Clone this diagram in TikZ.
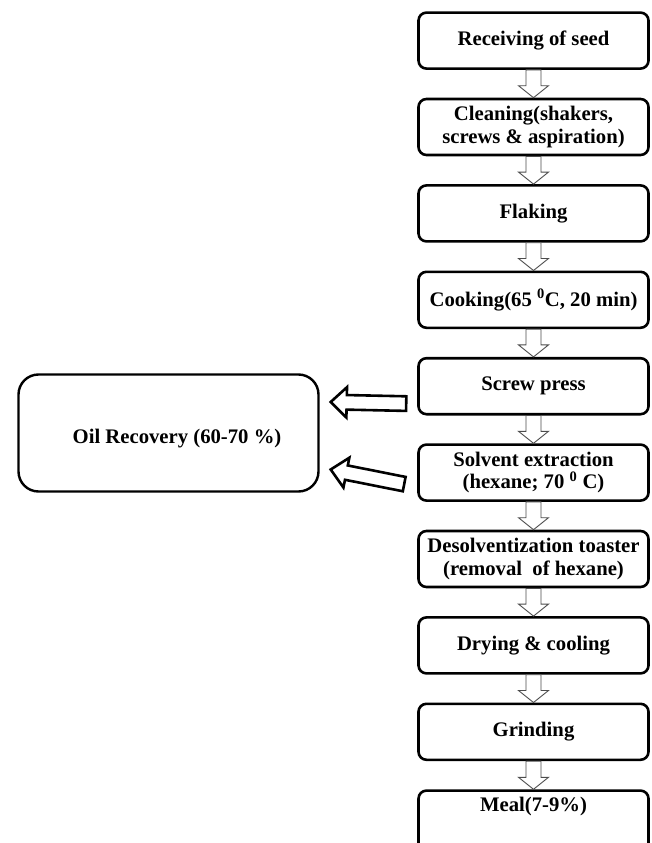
\documentclass[tikz,border=0pt]{standalone}
\usepackage{fontspec}
\setmainfont{Liberation Serif}
\usetikzlibrary{calc}
\tikzset{
  stepbox/.style={draw, line width=2.6pt, rounded corners=8pt, minimum width=230pt,
    minimum height=56pt, inner sep=2pt, align=center, anchor=north,
    font=\fontsize{20.7}{22.3}\selectfont\bfseries},
  oilbox/.style={draw, line width=2.4pt, rounded corners=20pt, minimum width=300pt,
    minimum height=117pt, inner sep=2pt, align=center, text height=25pt, text depth=5pt,
    font=\fontsize{20.7}{22.3}\selectfont\bfseries},
  thinarr/.style={draw=black!70, line width=0.9pt, fill=white, line join=miter},
  bigarr/.style={draw=black, line width=2.6pt, fill=white, line join=miter},
}
\newcommand\blkarrow[6]{%
  \coordinate (bkC) at ($(#3)!#6!(#2)$);
  \draw[#1] ($(#2)!#4!90:(#3)$) -- ($(bkC)!#4!90:(#3)$) -- ($(bkC)!#5!90:(#3)$) -- (#3)
    -- ($(bkC)!#5!-90:(#3)$) -- ($(bkC)!#4!-90:(#3)$) -- ($(#2)!#4!-90:(#3)$) -- cycle;
}
\begin{document}
\begin{tikzpicture}[x=1pt,y=-1pt]
\useasboundingbox (0,0) rectangle (651,843);
\node[stepbox] (n0) at (533.5,11.3) {Receiving of seed};
\node[stepbox] (n1) at (533.5,97.7) {Cleaning(shakers,\\screws \& aspiration)};
\node[stepbox] (n2) at (533.5,184.1) {Flaking};
\node[stepbox] (n3) at (533.5,270.5) {Cooking(65 \textsuperscript{0}C, 20 min)};
\node[stepbox] (n4) at (533.5,356.9) {Screw press};
\node[stepbox] (n5) at (533.5,443.3) {Solvent extraction\\(hexane; 70 \textsuperscript{0} C)};
\node[stepbox] (n6) at (533.5,529.7) {Desolventization toaster\\(removal\ \ of hexane)};
\node[stepbox] (n7) at (533.5,616.1) {Drying \& cooling};
\node[stepbox] (n8) at (533.5,702.5) {Grinding};
\node[stepbox, minimum height=0pt, text height=19pt, text depth=45pt] (n9) at (533.5,789.3) {Meal(7-9\%)};
\node[oilbox] (oil) at (168.5,433) {\hspace*{17pt}Oil Recovery (60-70 \%)};
\foreach \a/\b in {n0/n1,n1/n2,n2/n3,n3/n4,n4/n5,n5/n6,n6/n7,n7/n8,n8/n9}{
  \blkarrow{thinarr}{\a.south}{\b.north}{7.5pt}{15pt}{12pt}
}
\coordinate (a1t) at ($(n4.west)+(-11,17.4)$);
\coordinate (a1h) at ($(oil.east)+(11,-31)$);
\coordinate (a2t) at ($(n5.west)+(-13,11.5)$);
\coordinate (a2h) at ($(oil.east)+(11,36.5)$);
\blkarrow{bigarr}{a1t}{a1h}{7.3pt}{15.2pt}{16pt}
\blkarrow{bigarr}{a2t}{a2h}{7.3pt}{15.2pt}{16pt}
\end{tikzpicture}
\end{document}
